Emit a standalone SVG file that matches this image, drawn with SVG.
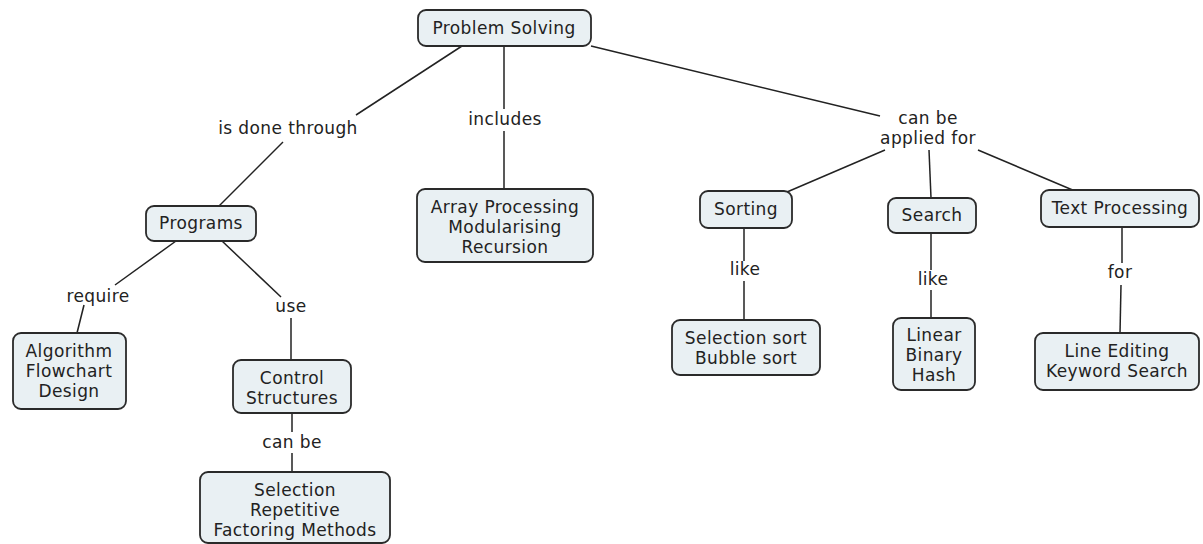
<svg xmlns="http://www.w3.org/2000/svg" width="1203" height="544" viewBox="0 0 1203 544">
<style>
.n rect{fill:#e9f0f3;stroke:#2a2a2a;stroke-width:1.8}
.n text,.l{font-family:"DejaVu Sans",Verdana,sans-serif;font-size:17px;letter-spacing:0.4px;fill:#222;text-anchor:middle}
#c line{stroke:#222;stroke-width:1.5}
</style>
<rect width="1203" height="544" fill="#fff"/>
<g id="c">
<line x1="462" y1="46" x2="356" y2="115"/>
<line x1="283" y1="142" x2="218" y2="207"/>
<line x1="504" y1="46" x2="504" y2="109"/>
<line x1="504" y1="131" x2="504" y2="189"/>
<line x1="591" y1="46" x2="880" y2="116"/>
<line x1="885" y1="150" x2="787" y2="192"/>
<line x1="929" y1="150" x2="931" y2="198"/>
<line x1="978" y1="150" x2="1075" y2="191"/>
<line x1="176" y1="241" x2="115" y2="285"/>
<line x1="84" y1="305" x2="77" y2="333"/>
<line x1="222" y1="241" x2="281" y2="297"/>
<line x1="291" y1="318" x2="291" y2="360"/>
<line x1="292" y1="413" x2="292" y2="432"/>
<line x1="292" y1="453" x2="292" y2="472"/>
<line x1="744" y1="229" x2="744" y2="261"/>
<line x1="744" y1="281" x2="744" y2="320"/>
<line x1="931" y1="233" x2="931" y2="270"/>
<line x1="931" y1="290" x2="931" y2="318"/>
<line x1="1122" y1="227" x2="1122" y2="263"/>
<line x1="1121" y1="285" x2="1120" y2="333"/>
</g>
<g id="labels">
<text class="l" x="288" y="134">is done through</text>
<text class="l" x="505" y="125">includes</text>
<text class="l" x="928" y="124">can be</text>
<text class="l" x="928" y="144">applied for</text>
<text class="l" x="98" y="302">require</text>
<text class="l" x="291" y="312">use</text>
<text class="l" x="292" y="448">can be</text>
<text class="l" x="745" y="275">like</text>
<text class="l" x="933" y="285">like</text>
<text class="l" x="1120" y="278">for</text>
</g>
<g id="problem-solving" class="n"><rect x="418" y="10" width="173" height="36" rx="8"/><text x="504" y="34">Problem Solving</text></g>
<g id="programs" class="n"><rect x="146" y="206" width="110" height="35" rx="8"/><text x="201" y="229">Programs</text></g>
<g id="array-processing" class="n"><rect x="417" y="189" width="176" height="73" rx="8"/><text x="505" y="213">Array Processing</text><text x="505" y="233">Modularising</text><text x="505" y="253">Recursion</text></g>
<g id="sorting" class="n"><rect x="700" y="191" width="92" height="37" rx="8"/><text x="746" y="215">Sorting</text></g>
<g id="search" class="n"><rect x="888" y="198" width="88" height="35" rx="8"/><text x="932" y="221">Search</text></g>
<g id="text-processing" class="n"><rect x="1041" y="190" width="158" height="37" rx="8"/><text x="1120" y="214">Text Processing</text></g>
<g id="algorithm" class="n"><rect x="13" y="333" width="113" height="76" rx="8"/><text x="69" y="357">Algorithm</text><text x="69" y="377">Flowchart</text><text x="69" y="397">Design</text></g>
<g id="control-structures" class="n"><rect x="233" y="360" width="118" height="53" rx="8"/><text x="292" y="384">Control</text><text x="292" y="404">Structures</text></g>
<g id="selection-methods" class="n"><rect x="200" y="472" width="190" height="71" rx="8"/><text x="295" y="496">Selection</text><text x="295" y="516">Repetitive</text><text x="295" y="536">Factoring Methods</text></g>
<g id="sort-kinds" class="n"><rect x="672" y="320" width="148" height="55" rx="8"/><text x="746" y="344">Selection sort</text><text x="746" y="364">Bubble sort</text></g>
<g id="search-kinds" class="n"><rect x="893" y="318" width="82" height="72" rx="8"/><text x="934" y="341">Linear</text><text x="934" y="361">Binary</text><text x="934" y="381">Hash</text></g>
<g id="text-uses" class="n"><rect x="1035" y="333" width="164" height="57" rx="8"/><text x="1117" y="357">Line Editing</text><text x="1117" y="377">Keyword Search</text></g>
</svg>
